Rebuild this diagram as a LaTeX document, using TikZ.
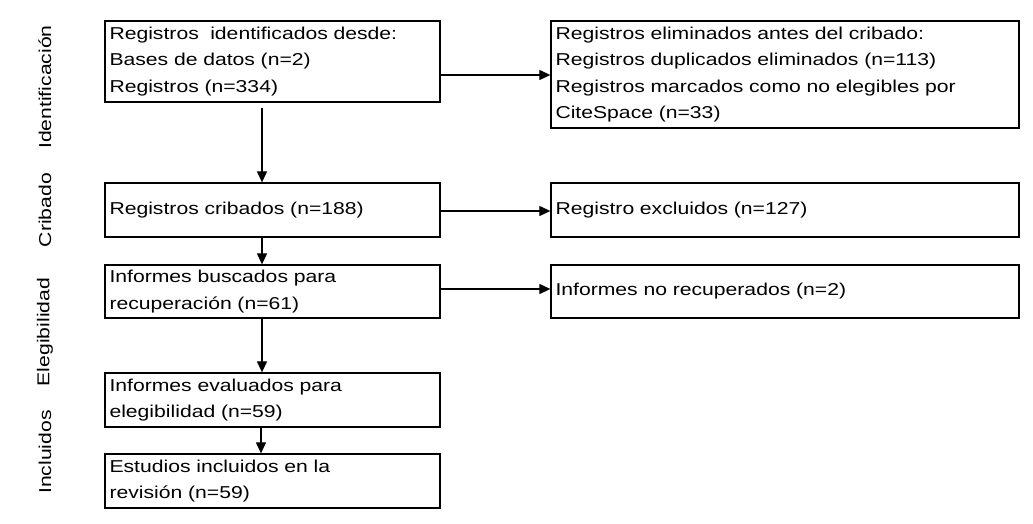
\documentclass[tikz,border=0pt]{standalone}
\usepackage{fontspec}
\setmainfont[FakeStretch=1.23]{Liberation Sans}
\usetikzlibrary{arrows.meta}
\begin{document}
\begin{tikzpicture}[x=1pt,y=-1pt,
  txt/.style={font=\fontsize{17.2}{26.5}\selectfont},
  box/.style={txt, draw, line width=1.3pt, inner xsep=4.5pt, inner ysep=0pt, align=left},
  lbox/.style={box, minimum width=335pt, text width=326pt},
  rbox/.style={box, minimum width=468pt, text width=459pt},
  arr/.style={line width=1.2pt, -{Triangle[length=11pt,width=10pt]}},
  side/.style={txt, rotate=90, inner sep=0pt}]
\useasboundingbox (0,0) rectangle (1033,523);
\node[lbox, minimum height=81pt] (b1) at (272.5,61.5) {Registros\ \ identificados desde:\\Bases de datos (n=2)\\Registros (n=334)};
\node[rbox, minimum height=107pt] (r1) at (785,74.5) {Registros eliminados antes del cribado:\\Registros duplicados eliminados (n=113)\\Registros marcados como no elegibles por\\CiteSpace (n=33)};
\node[lbox, minimum height=54pt] (b2) at (272.5,210) {Registros cribados (n=188)};
\node[rbox, minimum height=54pt] (r2) at (785,210) {Registro excluidos (n=127)};
\node[lbox, minimum height=53pt] (b3) at (272.5,291.5) {Informes buscados para\\recuperación (n=61)};
\node[rbox, minimum height=53pt] (r3) at (785,291.5) {Informes no recuperados (n=2)};
\node[lbox, minimum height=54pt] (b4) at (272.5,400) {Informes evaluados para\\elegibilidad (n=59)};
\node[lbox, minimum height=54pt] (b5) at (272.5,481) {Estudios incluidos en la\\revisión (n=59)};
\node[side] (s1) at (45,87) {Identificación};
\node[side] (s2) at (45,210) {Cribado};
\node[side] (s3) at (45,332) {Elegibilidad};
\node[side] (s4) at (45,452) {Incluidos};
\coordinate (cx) at (262,0);
\coordinate (cy) at (261,0);
\coordinate (h1) at (0,75);
\coordinate (h2) at (0,211);
\coordinate (h3) at (0,289);
\draw[arr] ([yshift=-5pt]b1.south -| cx) -- (b2.north -| cx);
\draw[arr] (b2.south -| cx) -- (b3.north -| cx);
\draw[arr] (b3.south -| cx) -- (b4.north -| cx);
\draw[arr] (b4.south -| cy) -- (b5.north -| cy);
\draw[arr] (b1.east |- h1) -- (r1.west |- h1);
\draw[arr] (b2.east |- h2) -- (r2.west |- h2);
\draw[arr] (b3.east |- h3) -- (r3.west |- h3);
\end{tikzpicture}
\end{document}
